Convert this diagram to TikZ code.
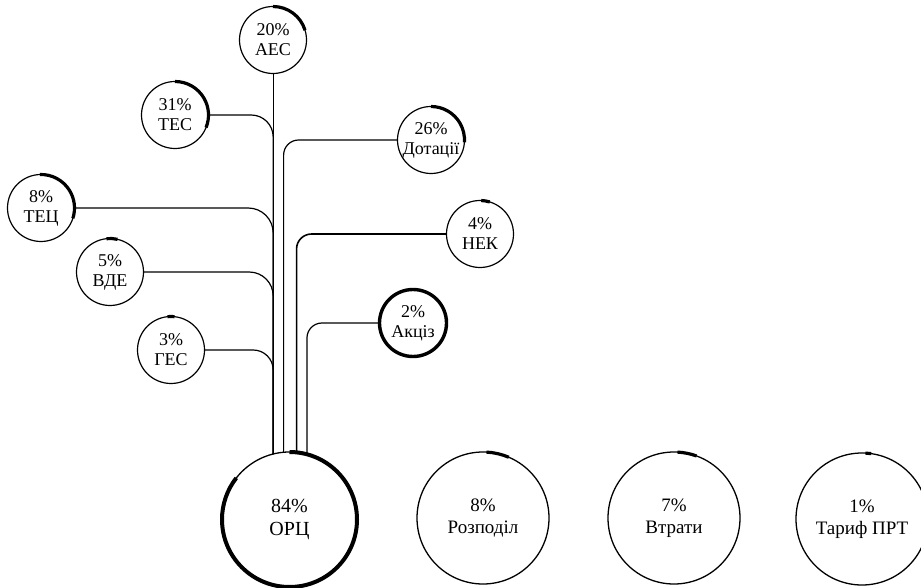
\documentclass[tikz,border=0pt]{standalone}
\usepackage{fontspec}
\setmainfont{Liberation Serif}
\begin{document}
\begin{tikzpicture}[x=1pt,y=1pt,
  src/.style={circle, draw, line width=1.2pt, minimum size=67pt, inner sep=0pt, outer sep=0pt},
  big/.style={circle, draw, line width=1.3pt, minimum size=132pt, inner sep=0pt, outer sep=0pt},
  share/.style={line width=3.2pt},
  conn/.style={line width=1.2pt},
  txt/.style={align=center, font=\fontsize{18}{20}\selectfont},
  bigtxt/.style={align=center, font=\fontsize{19}{22}\selectfont}]
\newcommand\sharearc[4]{\draw[share] (#1.center) ++(#3:#2) arc[start angle=#3, end angle=#4, radius=#2];}
\fill[white] (0,0) rectangle (921,587);
\useasboundingbox (0,0) rectangle (921,587);
\clip (0,0) rectangle (921,587);
% source circles
\node[src, label={[txt, name=aest]center:{20\%\\АЕС}}] (aes) at (273,547) {};
\node[src, label={[txt, name=test]center:{31\%\\ТЕС}}] (tes) at (175,472) {};
\node[src, label={[txt, name=tect]center:{8\%\\ТЕЦ}}] (tec) at (41,379) {};
\node[src, label={[txt, name=vdet]center:{5\%\\ВДЕ}}] (vde) at (110,315) {};
\node[src, label={[txt, name=gest]center:{3\%\\ГЕС}}] (ges) at (171,237) {};
\node[src, label={[txt, name=dott]center:{26\%\\Дотації}}] (dot) at (431,447) {};
\node[src, label={[txt, name=nekt]center:{4\%\\НЕК}}] (nek) at (480,353) {};
\node[src, line width=3.4pt, label={[txt, name=akct]center:{2\%\\Акціз}}] (akc) at (413,264) {};
% bottom circles
\node[big, minimum size=135pt, label={[bigtxt, font=\fontsize{20}{23}\selectfont, name=orct]center:{84\%\\ОРЦ}}] (orc) at (289.5,67.5) {};
\node[big, label={[bigtxt, name=rozt]center:{8\%\\Розподіл}}] (roz) at (483,69) {};
\node[big, label={[bigtxt, name=vtrt]center:{7\%\\Втрати}}] (vtr) at (674,69) {};
\node[big, label={[bigtxt, name=prtt]center:{1\%\\Тариф ПРТ}}] (prt) at (862,68) {};
% share arcs
\sharearc{aes}{33.5}{90}{17}
\sharearc{tes}{33.5}{90}{-22}
\sharearc{tec}{33.5}{92}{-18}
\sharearc{vde}{33.5}{96}{77}
\sharearc{ges}{33.5}{96}{84}
\sharearc{dot}{33.5}{90}{-4}
\sharearc{nek}{33.5}{88}{73}
\draw[line width=4pt] (orc.center) ++(90:67.5) arc[start angle=90, end angle=-218, radius=67.5];
\sharearc{roz}{66}{87}{67}
\sharearc{vtr}{66}{87}{70}
\sharearc{prt}{66}{87}{82}
% connectors
\draw[conn] (orc.104 |- aes.south) -- (orc.104);
\draw[conn, rounded corners=22pt] (tes.east) -| (orc.104);
\draw[conn, rounded corners=25pt] (tec.east) -| (orc.104);
\draw[conn, rounded corners=24pt] (vde.east) -| (orc.104);
\draw[conn, rounded corners=20pt] (ges.east) -| (orc.104);
\draw[conn, rounded corners=15pt] (dot.west) -| (orc.95.3);
\draw[conn, line width=1.6pt, rounded corners=15pt] (nek.west) -| (orc.84.7);
\draw[conn, rounded corners=15pt] (akc.west) -| (orc.75.2);
\end{tikzpicture}
\end{document}
